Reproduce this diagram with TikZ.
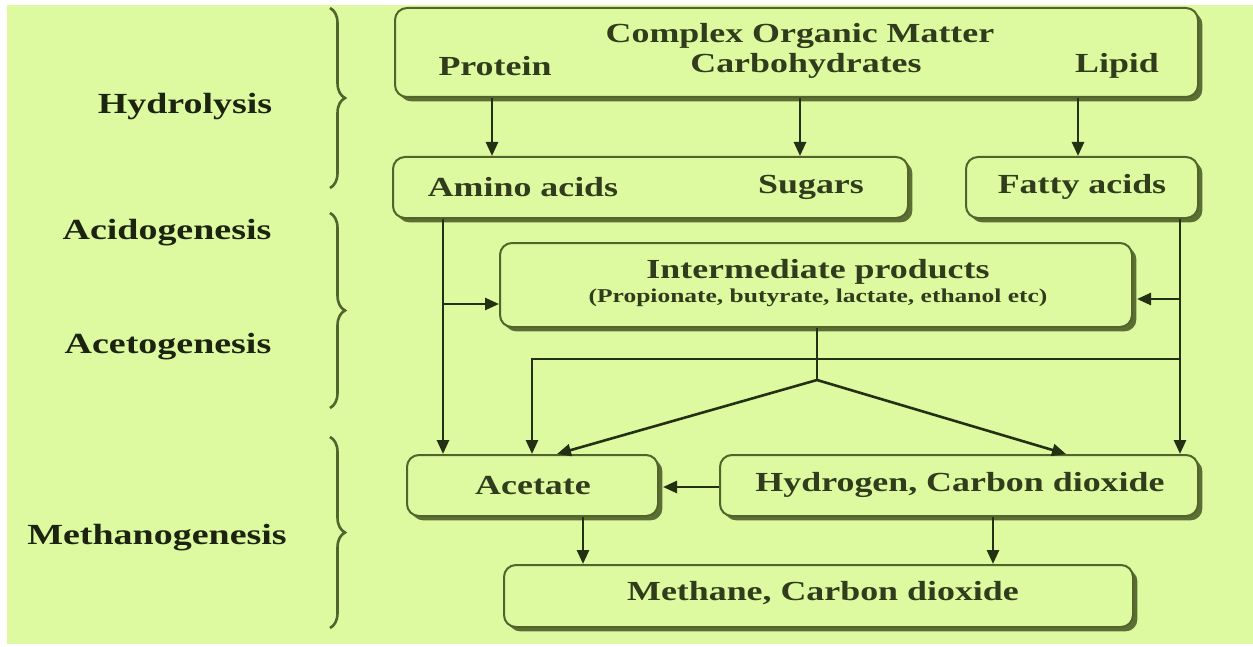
\documentclass[tikz,border=0pt]{standalone}
\usepackage{fontspec}
\setmainfont[FakeStretch=1.3]{Liberation Serif}
\usetikzlibrary{arrows.meta,shadows,decorations.pathreplacing}
\definecolor{bg}{RGB}{222,250,160}
\definecolor{edge}{RGB}{80,100,44}
\definecolor{shade}{RGB}{92,110,52}
\definecolor{txt}{RGB}{48,60,28}
\definecolor{lbl}{RGB}{28,36,16}
\definecolor{ln}{RGB}{36,48,20}
\begin{document}
\begin{tikzpicture}[x=0.5pt,y=-0.5pt,
  box/.style={draw=edge, line width=1pt, rounded corners=6pt, fill=bg,
    drop shadow={shadow xshift=2.2pt, shadow yshift=-2.2pt, fill=shade, opacity=1},
    inner sep=0pt},
  bt/.style={font=\fontsize{13.8}{16}\selectfont\bfseries, text=txt, inner sep=0pt},
  st/.style={font=\fontsize{9.8}{12}\selectfont\bfseries, text=txt, inner sep=0pt},
  lb/.style={font=\fontsize{14.6}{17}\selectfont\bfseries, text=lbl, inner sep=0pt},
  arr/.style={draw=ln, line width=1.3pt, -{Triangle[length=7pt,width=6pt]}},
  ln/.style={draw=ln, line width=1.3pt},
  brc/.style={draw=edge, line width=1.3pt, decorate,
    decoration={brace, amplitude=7.5pt}}]
% background
\fill[white] (0,0) rectangle (1253,647);
\fill[bg] (7,5) rectangle (1253,644);
\useasboundingbox (0,0) rectangle (1253,647);

% boxes
\node[box, minimum width=401.5pt, minimum height=44.5pt] (top) at (796.5,52.5) {};
\node[box, minimum width=257.5pt, minimum height=30.5pt] (amino) at (650.5,187.5) {};
\node[box, minimum width=116pt, minimum height=30.5pt] (fatty) at (1082,187.5) {};
\node[box, minimum width=316pt, minimum height=42pt] (inter) at (816,285) {};
\node[box, minimum width=125.5pt, minimum height=30.5pt] (acetate) at (532.5,485.5) {};
\node[box, minimum width=239pt, minimum height=30.5pt] (hydrogen) at (959,485.5) {};
\node[box, minimum width=314.5pt, minimum height=31pt] (methane) at (818.5,596) {};

% box texts
\node[bt] (tCOM) at (800,36) {Complex Organic Matter};
\node[bt] (tProt) at (495,66) {Protein};
\node[bt] (tCarb) at (806,66) {Carbohydrates};
\node[bt] (tLip) at (1117,66) {Lipid};
\node[bt] (tAmino) at (523,187) {Amino acids};
\node[bt] (tSug) at (811,187) {Sugars};
\node[bt] (tFat) at (1082,187) {Fatty acids};
\node[bt] (tInt) at (818,272) {Intermediate products};
\node[st] (tIntSub) at (818,298) {(Propionate, butyrate, lactate, ethanol etc)};
\node[bt] (tAce) at (533,486) {Acetate};
\node[bt] (tHyd) at (960,485) {Hydrogen, Carbon dioxide};
\node[bt] (tMeth) at (823,593) {Methane, Carbon dioxide};

% stage labels
\node[lb] (lHyd) at (185,107) {Hydrolysis};
\node[lb] (lAcid) at (167,233) {Acidogenesis};
\node[lb] (lAcet) at (168,347) {Acetogenesis};
\node[lb] (lMeth) at (157,538) {Methanogenesis};

% braces
\draw[brc] (330,8) -- (330,188);
\draw[brc] (330,213) -- (330,408);
\draw[brc] (330,437) -- (330,628);

% helper coordinates
\coordinate (xP) at (492,0);
\coordinate (xC) at (800,0);
\coordinate (xL) at (1078,0);
\coordinate (xLeft) at (443,0);
\coordinate (xRight) at (1180,0);
\coordinate (xA) at (532,0);
\coordinate (dA) at (557,0);
\coordinate (dH) at (1066,0);
\coordinate (xAM) at (583,0);
\coordinate (xHM) at (993,0);
\coordinate (yB1) at (0,304);
\coordinate (yB2) at (0,299);
\coordinate (yH) at (0,359);
\coordinate (yHA) at (0,487);
\coordinate (J) at (817,380);

% hydrolysis arrows
\draw[arr] (top.south -| xP) -- (amino.north -| xP);
\draw[arr] (top.south -| xC) -- (amino.north -| xC);
\draw[arr] (top.south -| xL) -- (fatty.north -| xL);

% side channels
\draw[arr] (amino.south -| xLeft) -- (acetate.north -| xLeft);
\draw[arr] (xLeft |- yB1) -- (inter.west |- yB1);
\draw[arr] (fatty.south -| xRight) -- (hydrogen.north -| xRight);
\draw[arr] (xRight |- yB2) -- ([xshift=2pt]inter.east |- yB2);
\draw[arr] (xRight |- yH) -- (xA |- yH) -- (acetate.north -| xA);

% intermediate split
\draw[ln] (inter.south -| J) -- (J);
\draw[arr] (J) -- (acetate.north -| dA);
\draw[arr] (J) -- (hydrogen.north -| dH);

% methanogenesis
\draw[arr] (hydrogen.west |- yHA) -- ([xshift=2pt]acetate.east |- yHA);
\draw[arr] (acetate.south -| xAM) -- (methane.north -| xAM);
\draw[arr] (hydrogen.south -| xHM) -- (methane.north -| xHM);
\end{tikzpicture}
\end{document}
